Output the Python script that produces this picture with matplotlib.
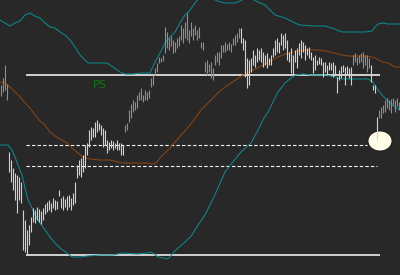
import numpy as np
import matplotlib
matplotlib.use("Agg")
import matplotlib.pyplot as plt
from matplotlib.patches import Ellipse

# bar highs / lows, one bar per session
highs = [190, 197, 210, 191, 123, 115, 107, 102, 100, 98, 93, 65, 55, 45, 50, 58, 67, 65, 68, 66,
         64, 67, 71, 73, 75, 72, 77, 75, 74, 85, 77, 79, 76, 79, 80, 77, 82, 93, 110, 115,
         117, 120, 130, 132, 145, 148, 147, 153, 155, 152, 150, 147, 145, 135, 133, 135, 134, 132, 135, 132,
         132, 130, 150, 152, 165, 171, 175, 173, 180, 183, 187, 180, 185, 183, 185, 197, 200, 207, 212, 218,
         217, 220, 248, 243, 237, 239, 235, 233, 237, 239, 250, 247, 253, 262, 245, 253, 247, 250, 245, 248,
         233, 233, 213, 215, 211, 213, 207, 220, 223, 223, 230, 230, 233, 231, 233, 231, 237, 240, 242, 247,
         247, 237, 235, 217, 215, 217, 225, 220, 227, 225, 227, 223, 220, 222, 217, 220, 227, 235, 237, 233,
         242, 240, 242, 235, 223, 227, 220, 225, 227, 232, 235, 233, 230, 227, 228, 223, 218, 220, 215, 218,
         217, 213, 213, 210, 213, 212, 213, 210, 198, 205, 209, 210, 208, 209, 207, 208, 220, 222, 218, 220,
         222, 223, 220, 220, 217, 210, 190, 190, 158, 165, 168, 170, 175, 177, 175, 176, 177, 175, 177, 173]
lows = [179, 183, 185, 175, 103, 93, 85, 75, 62, 75, 72, 25, 23, 21, 30, 43, 53, 52, 55, 53,
        51, 55, 61, 63, 65, 63, 67, 65, 66, 79, 67, 65, 68, 65, 68, 65, 70, 72, 97, 100,
        98, 103, 107, 120, 128, 135, 138, 138, 143, 145, 140, 128, 130, 122, 125, 127, 125, 127, 125, 125,
        120, 120, 143, 145, 153, 157, 163, 165, 167, 175, 175, 173, 175, 175, 177, 188, 190, 200, 203, 212,
        213, 214, 222, 227, 225, 229, 222, 223, 227, 229, 235, 232, 237, 235, 232, 239, 235, 240, 235, 237,
        227, 225, 203, 200, 203, 197, 195, 210, 213, 210, 217, 223, 223, 225, 225, 223, 230, 230, 233, 237,
        232, 225, 198, 187, 190, 203, 210, 208, 213, 215, 213, 208, 210, 207, 210, 210, 218, 220, 223, 222,
        230, 225, 227, 215, 213, 202, 200, 213, 207, 220, 217, 223, 215, 220, 217, 215, 202, 205, 210, 211,
        210, 198, 203, 200, 205, 205, 198, 200, 182, 195, 197, 203, 190, 201, 197, 190, 210, 213, 210, 212,
        213, 207, 210, 203, 207, 193, 185, 182, 135, 157, 157, 162, 163, 167, 165, 162, 170, 163, 169, 165]

# runs of bars by shade (count, colour)
shade_runs = [(4, "#8e8e8e"), (58, "#d2d2d2"), (58, "#8e8e8e"), (56, "#d2d2d2"),
              (9, "#8e8e8e"), (4, "#d2d2d2"), (11, "#8e8e8e")]

# moving average and bands, (bar index, value)
upper_x = [-0.5, 2, 4.5, 7, 9.5, 12, 14.5, 17, 19.5, 22, 24.5, 27, 29.5, 32, 34.5, 37, 39.5, 42, 43.5, 48,
           53, 56, 59.5, 62, 65.5, 70.5, 74.5, 77, 79.5, 82, 84.5, 87, 89.5, 92, 94.5, 97, 99.5, 103.5, 108, 112,
           117, 119.5, 123.5, 128.5, 132, 134.5, 137, 142, 147, 149.5, 157, 162, 165.5, 170.5, 175.5, 182, 185.5, 187, 188.5, 191,
           193.5, 199.5]
upper_y = [255, 252, 249, 252, 254, 260, 262, 259, 257, 252, 248, 247, 243, 240, 235, 228, 220, 215, 212, 212,
           212, 208, 203, 201, 201, 202, 202, 213, 222, 232, 238, 243, 252, 260, 265, 272, 278, 280, 274, 272,
           272, 274, 278, 273, 270, 265, 260, 257, 252, 250, 249, 249, 247, 243, 243, 243, 244, 248, 251, 252,
           251, 251]
mid_x = [-0.5, 2, 4.5, 7, 9.5, 12, 14.5, 17, 19.5, 22, 24.5, 27, 29.5, 33, 35.5, 38.5, 41, 44.5, 49.5, 54.5,
         60.5, 66.5, 73.5, 75.5, 77.5, 79.5, 82, 84.5, 87, 91.5, 96.5, 100, 105, 110, 115, 121, 126, 131, 133.5, 138.5,
         143.5, 148.5, 153.5, 158.5, 162, 164.5, 170.5, 173.5, 183.5, 187, 190.5, 193.5, 197, 199.5]
mid_y = [193, 192, 188, 183, 178, 172, 167, 160, 154, 150, 143, 139, 136, 132, 127, 122, 118, 116, 115, 115,
         112, 112, 112, 111, 112, 117, 122, 127, 133, 143, 155, 165, 175, 185, 192, 200, 205, 210, 213, 218,
         222, 224, 225, 225, 224, 223, 220, 219, 219, 217, 213, 212, 208, 208]
lower_x = [-0.5, 3.5, 5.5, 7, 8.5, 10.5, 12, 13.5, 15.5, 17, 19.5, 22, 24.5, 27, 29.5, 33, 35.5, 39.5, 43.5, 49.5,
           56, 60.5, 68, 73, 74.5, 76, 78.5, 81, 83, 84.5, 86, 88.5, 92, 95.5, 98.5, 102, 105.5, 108.5, 112, 115.5,
           120, 125, 128.5, 131.5, 133.5, 136, 138.5, 142, 145, 147.5, 151, 155, 162.5, 167, 170.5, 183.5, 186, 188.5, 190.5, 193,
           195.5, 198, 199.5]
lower_y = [130, 130, 125, 118, 110, 100, 87, 75, 67, 60, 52, 45, 38, 32, 27, 22, 18, 18, 19, 20,
           20, 22, 21, 22, 23, 22, 18, 17, 16, 18, 22, 27, 33, 40, 50, 60, 74, 87, 103, 112,
           123, 132, 145, 157, 163, 173, 183, 192, 197, 200, 201, 200, 200, 198, 196, 196, 193, 185, 180, 175,
           170, 167, 165]

# horizontal levels: (value, start bar, end bar, style)
levels = [(200, 12.5, 189.5, "-"), (130, 12.5, 183, "--"), (109, 12.5, 188, "--"), (20, 12.5, 189.5, "-")]

bg = "#282828"
fig = plt.figure(figsize=(4, 2.75), dpi=100, facecolor=bg)
ax = fig.add_axes([0, 0, 1, 1], facecolor=bg)

for val, x0, x1, ls in levels:
    if ls == "--":
        ax.hlines(val, x0, x1, colors="white", linewidth=0.8, linestyles=(0, (3, 2)), zorder=2)
    else:
        ax.hlines(val, x0, x1, colors="white", linewidth=1.1, zorder=2)

ax.plot(upper_x, upper_y, color="#0b8a8a", linewidth=0.75, zorder=3)
ax.plot(lower_x, lower_y, color="#0b8a8a", linewidth=0.75, zorder=3)
ax.plot(mid_x, mid_y, color="#8a4510", linewidth=0.75, zorder=3)

ax.add_patch(Ellipse((189.5, 134), 12, 20, facecolor="#fffde6", edgecolor="#111111",
                     linewidth=0.6, zorder=4))

colors = []
for n, c in shade_runs:
    colors += [c] * n
idx = np.arange(len(highs))
ax.vlines(idx, lows, highs, colors=colors, linewidth=0.8, zorder=5)

ax.text(49.25, 190, "PS", color="#127512", fontsize=8, ha="center", va="center", zorder=6)

ax.set_xlim(-0.5, 199.5)
ax.set_ylim(0, 275)
ax.axis("off")
fig.savefig("out.png", dpi=100, facecolor=bg)
